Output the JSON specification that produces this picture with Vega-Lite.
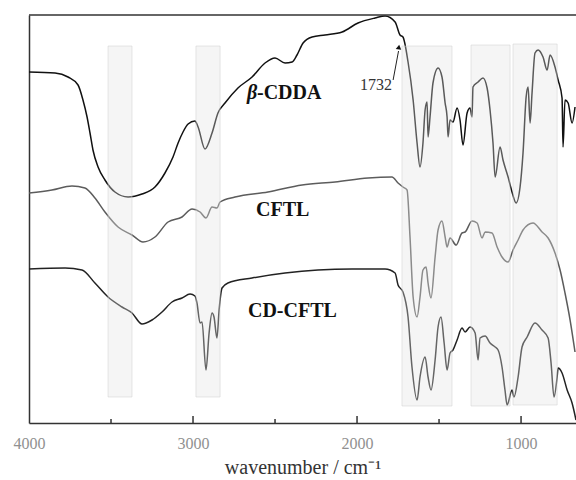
{
  "$schema": "https://vega.github.io/schema/vega-lite/v6.json",
  "width": 547,
  "height": 408,
  "autosize": {"type": "none"},
  "padding": {"left": 29, "top": 15, "right": 0, "bottom": 57},
  "config": {"view": {"stroke": null}, "font": "Liberation Serif", "axis": {"labelFont": "Liberation Serif", "titleFont": "Liberation Serif"}},
  "datasets": {
    "spectra": [
      {"s":"β-CDDA","wn":4000,"t":351},{"s":"β-CDDA","wn":3841,"t":350},{"s":"β-CDDA","wn":3762,"t":346},{"s":"β-CDDA","wn":3701,"t":338},{"s":"β-CDDA","wn":3671,"t":323},{"s":"β-CDDA","wn":3646,"t":306},{"s":"β-CDDA","wn":3628,"t":290},{"s":"β-CDDA","wn":3610,"t":273},{"s":"β-CDDA","wn":3579,"t":256},{"s":"β-CDDA","wn":3537,"t":243},{"s":"β-CDDA","wn":3476,"t":231},{"s":"β-CDDA","wn":3396,"t":226},{"s":"β-CDDA","wn":3311,"t":229},{"s":"β-CDDA","wn":3232,"t":236},{"s":"β-CDDA","wn":3171,"t":250},{"s":"β-CDDA","wn":3122,"t":266},{"s":"β-CDDA","wn":3091,"t":280},{"s":"β-CDDA","wn":3061,"t":291},{"s":"β-CDDA","wn":3030,"t":299},{"s":"β-CDDA","wn":2988,"t":302},{"s":"β-CDDA","wn":2969,"t":296},{"s":"β-CDDA","wn":2927,"t":274},{"s":"β-CDDA","wn":2884,"t":290},{"s":"β-CDDA","wn":2848,"t":310},{"s":"β-CDDA","wn":2805,"t":320},{"s":"β-CDDA","wn":2726,"t":335},{"s":"β-CDDA","wn":2640,"t":346},{"s":"β-CDDA","wn":2561,"t":360},{"s":"β-CDDA","wn":2500,"t":365},{"s":"β-CDDA","wn":2439,"t":360},{"s":"β-CDDA","wn":2396,"t":361},{"s":"β-CDDA","wn":2366,"t":368},{"s":"β-CDDA","wn":2329,"t":380},{"s":"β-CDDA","wn":2274,"t":386},{"s":"β-CDDA","wn":2195,"t":388},{"s":"β-CDDA","wn":2091,"t":391},{"s":"β-CDDA","wn":1994,"t":400},{"s":"β-CDDA","wn":1890,"t":405},{"s":"β-CDDA","wn":1829,"t":407},{"s":"β-CDDA","wn":1768,"t":401},{"s":"β-CDDA","wn":1738,"t":388},{"s":"β-CDDA","wn":1720,"t":386},{"s":"β-CDDA","wn":1689,"t":361},{"s":"β-CDDA","wn":1658,"t":323},{"s":"β-CDDA","wn":1634,"t":280},{"s":"β-CDDA","wn":1616,"t":256},{"s":"β-CDDA","wn":1598,"t":280},{"s":"β-CDDA","wn":1585,"t":313},{"s":"β-CDDA","wn":1573,"t":321},{"s":"β-CDDA","wn":1567,"t":286},{"s":"β-CDDA","wn":1555,"t":306},{"s":"β-CDDA","wn":1537,"t":340},{"s":"β-CDDA","wn":1506,"t":355},{"s":"β-CDDA","wn":1482,"t":346},{"s":"β-CDDA","wn":1463,"t":320},{"s":"β-CDDA","wn":1451,"t":306},{"s":"β-CDDA","wn":1445,"t":286},{"s":"β-CDDA","wn":1433,"t":303},{"s":"β-CDDA","wn":1415,"t":301},{"s":"β-CDDA","wn":1390,"t":315},{"s":"β-CDDA","wn":1372,"t":303},{"s":"β-CDDA","wn":1354,"t":278},{"s":"β-CDDA","wn":1329,"t":310},{"s":"β-CDDA","wn":1311,"t":315},{"s":"β-CDDA","wn":1299,"t":306},{"s":"β-CDDA","wn":1293,"t":336},{"s":"β-CDDA","wn":1262,"t":341},{"s":"β-CDDA","wn":1232,"t":345},{"s":"β-CDDA","wn":1207,"t":335},{"s":"β-CDDA","wn":1189,"t":313},{"s":"β-CDDA","wn":1171,"t":280},{"s":"β-CDDA","wn":1158,"t":246},{"s":"β-CDDA","wn":1128,"t":276},{"s":"β-CDDA","wn":1110,"t":263},{"s":"β-CDDA","wn":1079,"t":246},{"s":"β-CDDA","wn":1055,"t":231},{"s":"β-CDDA","wn":1030,"t":220},{"s":"β-CDDA","wn":1006,"t":236},{"s":"β-CDDA","wn":988,"t":270},{"s":"β-CDDA","wn":969,"t":326},{"s":"β-CDDA","wn":957,"t":336},{"s":"β-CDDA","wn":945,"t":300},{"s":"β-CDDA","wn":933,"t":330},{"s":"β-CDDA","wn":915,"t":370},{"s":"β-CDDA","wn":896,"t":373},{"s":"β-CDDA","wn":866,"t":366},{"s":"β-CDDA","wn":841,"t":353},{"s":"β-CDDA","wn":823,"t":368},{"s":"β-CDDA","wn":793,"t":356},{"s":"β-CDDA","wn":774,"t":343},{"s":"β-CDDA","wn":750,"t":325},{"s":"β-CDDA","wn":744,"t":276},{"s":"β-CDDA","wn":732,"t":323},{"s":"β-CDDA","wn":713,"t":320},{"s":"β-CDDA","wn":689,"t":300},{"s":"β-CDDA","wn":671,"t":316},
      {"s":"CFTL","wn":4000,"t":230},{"s":"CFTL","wn":3860,"t":233},{"s":"CFTL","wn":3738,"t":237},{"s":"CFTL","wn":3659,"t":235},{"s":"CFTL","wn":3598,"t":225},{"s":"CFTL","wn":3537,"t":211},{"s":"CFTL","wn":3457,"t":196},{"s":"CFTL","wn":3372,"t":188},{"s":"CFTL","wn":3305,"t":181},{"s":"CFTL","wn":3232,"t":186},{"s":"CFTL","wn":3152,"t":201},{"s":"CFTL","wn":3067,"t":206},{"s":"CFTL","wn":3006,"t":214},{"s":"CFTL","wn":2957,"t":211},{"s":"CFTL","wn":2921,"t":205},{"s":"CFTL","wn":2884,"t":216},{"s":"CFTL","wn":2854,"t":215},{"s":"CFTL","wn":2835,"t":221},{"s":"CFTL","wn":2744,"t":226},{"s":"CFTL","wn":2543,"t":231},{"s":"CFTL","wn":2335,"t":238},{"s":"CFTL","wn":2134,"t":241},{"s":"CFTL","wn":1933,"t":245},{"s":"CFTL","wn":1787,"t":246},{"s":"CFTL","wn":1750,"t":240},{"s":"CFTL","wn":1720,"t":236},{"s":"CFTL","wn":1695,"t":233},{"s":"CFTL","wn":1677,"t":186},{"s":"CFTL","wn":1658,"t":126},{"s":"CFTL","wn":1634,"t":106},{"s":"CFTL","wn":1616,"t":126},{"s":"CFTL","wn":1598,"t":153},{"s":"CFTL","wn":1579,"t":156},{"s":"CFTL","wn":1567,"t":140},{"s":"CFTL","wn":1549,"t":125},{"s":"CFTL","wn":1524,"t":166},{"s":"CFTL","wn":1506,"t":193},{"s":"CFTL","wn":1482,"t":202},{"s":"CFTL","wn":1463,"t":186},{"s":"CFTL","wn":1451,"t":176},{"s":"CFTL","wn":1433,"t":185},{"s":"CFTL","wn":1396,"t":178},{"s":"CFTL","wn":1360,"t":190},{"s":"CFTL","wn":1341,"t":191},{"s":"CFTL","wn":1299,"t":202},{"s":"CFTL","wn":1268,"t":200},{"s":"CFTL","wn":1238,"t":185},{"s":"CFTL","wn":1219,"t":191},{"s":"CFTL","wn":1177,"t":190},{"s":"CFTL","wn":1146,"t":176},{"s":"CFTL","wn":1116,"t":166},{"s":"CFTL","wn":1079,"t":161},{"s":"CFTL","wn":1049,"t":173},{"s":"CFTL","wn":1018,"t":183},{"s":"CFTL","wn":988,"t":193},{"s":"CFTL","wn":927,"t":200},{"s":"CFTL","wn":872,"t":191},{"s":"CFTL","wn":835,"t":185},{"s":"CFTL","wn":793,"t":170},{"s":"CFTL","wn":762,"t":153},{"s":"CFTL","wn":732,"t":130},{"s":"CFTL","wn":701,"t":103},{"s":"CFTL","wn":671,"t":71},
      {"s":"CD-CFTL","wn":4000,"t":154},{"s":"CD-CFTL","wn":3780,"t":155},{"s":"CD-CFTL","wn":3677,"t":153},{"s":"CD-CFTL","wn":3598,"t":140},{"s":"CD-CFTL","wn":3518,"t":126},{"s":"CD-CFTL","wn":3433,"t":116},{"s":"CD-CFTL","wn":3372,"t":110},{"s":"CD-CFTL","wn":3311,"t":99},{"s":"CD-CFTL","wn":3250,"t":103},{"s":"CD-CFTL","wn":3189,"t":111},{"s":"CD-CFTL","wn":3128,"t":121},{"s":"CD-CFTL","wn":3067,"t":125},{"s":"CD-CFTL","wn":3018,"t":129},{"s":"CD-CFTL","wn":2988,"t":127},{"s":"CD-CFTL","wn":2976,"t":120},{"s":"CD-CFTL","wn":2957,"t":100},{"s":"CD-CFTL","wn":2945,"t":101},{"s":"CD-CFTL","wn":2921,"t":53},{"s":"CD-CFTL","wn":2902,"t":90},{"s":"CD-CFTL","wn":2884,"t":110},{"s":"CD-CFTL","wn":2872,"t":106},{"s":"CD-CFTL","wn":2854,"t":85},{"s":"CD-CFTL","wn":2841,"t":113},{"s":"CD-CFTL","wn":2823,"t":135},{"s":"CD-CFTL","wn":2787,"t":140},{"s":"CD-CFTL","wn":2640,"t":145},{"s":"CD-CFTL","wn":2439,"t":150},{"s":"CD-CFTL","wn":2238,"t":153},{"s":"CD-CFTL","wn":2030,"t":154},{"s":"CD-CFTL","wn":1829,"t":154},{"s":"CD-CFTL","wn":1768,"t":150},{"s":"CD-CFTL","wn":1750,"t":138},{"s":"CD-CFTL","wn":1720,"t":131},{"s":"CD-CFTL","wn":1689,"t":106},{"s":"CD-CFTL","wn":1665,"t":56},{"s":"CD-CFTL","wn":1634,"t":23},{"s":"CD-CFTL","wn":1616,"t":46},{"s":"CD-CFTL","wn":1585,"t":66},{"s":"CD-CFTL","wn":1567,"t":46},{"s":"CD-CFTL","wn":1549,"t":33},{"s":"CD-CFTL","wn":1524,"t":63},{"s":"CD-CFTL","wn":1506,"t":96},{"s":"CD-CFTL","wn":1488,"t":106},{"s":"CD-CFTL","wn":1469,"t":80},{"s":"CD-CFTL","wn":1451,"t":53},{"s":"CD-CFTL","wn":1433,"t":70},{"s":"CD-CFTL","wn":1415,"t":73},{"s":"CD-CFTL","wn":1390,"t":83},{"s":"CD-CFTL","wn":1360,"t":95},{"s":"CD-CFTL","wn":1341,"t":91},{"s":"CD-CFTL","wn":1311,"t":96},{"s":"CD-CFTL","wn":1280,"t":90},{"s":"CD-CFTL","wn":1262,"t":63},{"s":"CD-CFTL","wn":1250,"t":85},{"s":"CD-CFTL","wn":1219,"t":87},{"s":"CD-CFTL","wn":1189,"t":80},{"s":"CD-CFTL","wn":1158,"t":76},{"s":"CD-CFTL","wn":1140,"t":73},{"s":"CD-CFTL","wn":1116,"t":56},{"s":"CD-CFTL","wn":1098,"t":33},{"s":"CD-CFTL","wn":1085,"t":18},{"s":"CD-CFTL","wn":1055,"t":33},{"s":"CD-CFTL","wn":1043,"t":26},{"s":"CD-CFTL","wn":1018,"t":46},{"s":"CD-CFTL","wn":994,"t":76},{"s":"CD-CFTL","wn":963,"t":86},{"s":"CD-CFTL","wn":915,"t":100},{"s":"CD-CFTL","wn":872,"t":93},{"s":"CD-CFTL","wn":835,"t":85},{"s":"CD-CFTL","wn":817,"t":60},{"s":"CD-CFTL","wn":799,"t":26},{"s":"CD-CFTL","wn":780,"t":46},{"s":"CD-CFTL","wn":774,"t":55},{"s":"CD-CFTL","wn":750,"t":50},{"s":"CD-CFTL","wn":719,"t":33},{"s":"CD-CFTL","wn":689,"t":20},{"s":"CD-CFTL","wn":665,"t":3}
    ],
    "bands": [
      {"x1":3518,"x2":3372,"y1":26,"y2":377},
      {"x1":2982,"x2":2835,"y1":26,"y2":377},
      {"x1":1726,"x2":1421,"y1":17,"y2":377},
      {"x1":1305,"x2":1067,"y1":17,"y2":378},
      {"x1":1049,"x2":780,"y1":18,"y2":379}
    ],
    "labels": [
      {"wn":2610,"t":324,"text":"-CDDA"},
      {"wn":2616,"t":207,"text":"CFTL"},
      {"wn":2665,"t":106,"text":"CD-CFTL"}
    ],
    "ticks": [
      {"wn":3500,"b":0,"len":4},{"wn":3000,"b":0,"len":7},{"wn":2500,"b":0,"len":4},{"wn":2000,"b":0,"len":7},{"wn":1500,"b":0,"len":4},{"wn":1000,"b":0,"len":7}
    ],
    "arrow": [
      {"wn":1780,"t":343},
      {"wn":1747,"t":372}
    ]
  },
  "layer": [
    {
      "data": {"name": "spectra"},
      "mark": {"type": "line", "strokeWidth": 1.5, "clip": true, "interpolate": "monotone"},
      "encoding": {
        "x": {"field": "wn", "type": "quantitative", "scale": {"domain": [665, 4000], "reverse": true, "nice": false, "zero": false},
          "axis": {"values": [4000, 3000, 2000, 1000], "format": "d", "ticks": false, "domainColor": "#333", "domainWidth": 1.5, "grid": false, "labelFont": "Liberation Serif", "labelFontSize": 16, "labelColor": "#909090", "labelPadding": 12, "labelFlush": false, "title": "wavenumber / cm⁻¹", "titleFont": "Liberation Serif", "titleFontSize": 20, "titleFontWeight": "normal", "titleColor": "#333", "titlePadding": 6}},
        "y": {"field": "t", "type": "quantitative", "scale": {"domain": [0, 408], "nice": false, "zero": false},
          "axis": {"labels": false, "ticks": false, "title": null, "grid": false, "domainColor": "#333", "domainWidth": 1.5}},
        "color": {"field": "s", "type": "nominal", "scale": {"domain": ["β-CDDA", "CFTL", "CD-CFTL"], "range": ["#111111", "#5c5c5c", "#222222"]}, "legend": null},
        "detail": {"field": "s"}
      }
    },
    {
      "data": {"name": "bands"},
      "mark": {"type": "rect", "fill": "#e3e3e3", "fillOpacity": 0.35, "stroke": "#cfcfcf", "strokeOpacity": 0.5, "strokeWidth": 1},
      "encoding": {
        "x": {"field": "x1", "type": "quantitative"},
        "x2": {"field": "x2"},
        "y": {"field": "y1", "type": "quantitative"},
        "y2": {"field": "y2"}
      }
    },
    {
      "data": {"values": [{}]},
      "mark": {"type": "rule", "color": "#333", "strokeWidth": 1.5},
      "encoding": {"y": {"datum": 408}}
    },
    {
      "data": {"name": "ticks"},
      "mark": {"type": "rule", "color": "#333", "strokeWidth": 1.5},
      "encoding": {
        "x": {"field": "wn", "type": "quantitative"},
        "y": {"field": "b", "type": "quantitative"},
        "y2": {"field": "len"}
      }
    },
    {
      "data": {"name": "labels"},
      "mark": {"type": "text", "font": "Liberation Serif", "fontWeight": "bold", "fontSize": 20, "align": "left", "baseline": "alphabetic", "color": "#111"},
      "encoding": {
        "x": {"field": "wn", "type": "quantitative"},
        "y": {"field": "t", "type": "quantitative"},
        "text": {"field": "text"}
      }
    },
    {
      "data": {"values": [{"wn": 2671, "t": 324, "text": "β"}]},
      "mark": {"type": "text", "font": "Liberation Serif", "fontWeight": "bold", "fontStyle": "italic", "fontSize": 20, "align": "left", "baseline": "alphabetic", "color": "#111"},
      "encoding": {
        "x": {"field": "wn", "type": "quantitative"},
        "y": {"field": "t", "type": "quantitative"},
        "text": {"field": "text"}
      }
    },
    {
      "data": {"values": [{"wn": 1787, "t": 338, "text": "1732"}]},
      "mark": {"type": "text", "font": "Liberation Serif", "fontSize": 16, "align": "right", "baseline": "middle", "color": "#333"},
      "encoding": {
        "x": {"field": "wn", "type": "quantitative"},
        "y": {"field": "t", "type": "quantitative"},
        "text": {"field": "text"}
      }
    },
    {
      "data": {"name": "arrow"},
      "mark": {"type": "line", "color": "#222", "strokeWidth": 1},
      "encoding": {
        "x": {"field": "wn", "type": "quantitative"},
        "y": {"field": "t", "type": "quantitative"}
      }
    },
    {
      "data": {"values": [{"wn": 1745, "t": 376}]},
      "mark": {"type": "point", "shape": "triangle-up", "filled": true, "color": "#111", "size": 30, "angle": 9, "opacity": 1},
      "encoding": {
        "x": {"field": "wn", "type": "quantitative"},
        "y": {"field": "t", "type": "quantitative"}
      }
    }
  ]
}
